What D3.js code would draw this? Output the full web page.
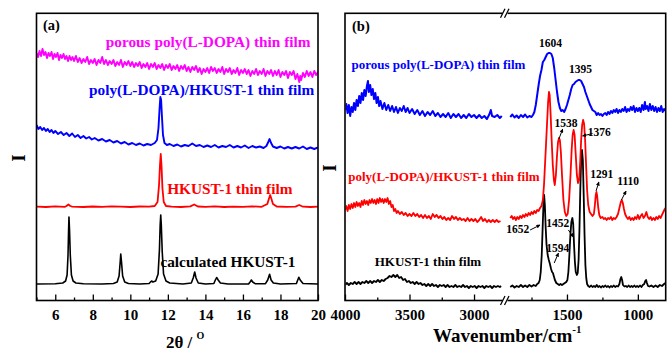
<!DOCTYPE html>
<html><head><meta charset="utf-8">
<script src="https://cdn.jsdelivr.net/npm/d3@7"></script>
<style>
html,body{margin:0;padding:0;background:#fff;}
svg{display:block;}
text{font-family:"Liberation Serif","Times New Roman",serif;font-weight:bold;}
</style></head>
<body>
<svg id="c" width="667" height="351"></svg>
<script>
// ---------------- DATA ----------------
// Panel (a) XRD: [2theta (deg), intensity a.u. incl. offset]
const xrdPorous = [[5.0,247],[5.08,243],[5.16,249],[5.24,244],[5.32,251],[5.4,245],[5.48,248],[5.56,242],[5.64,247],[5.72,244],[5.8,248],[5.88,241],[5.96,246],[6.04,243],[6.12,247],[6.2,240],[6.28,245],[6.36,242],[6.44,246],[6.52,241],[6.6,244],[6.68,239],[6.76,244],[6.84,240],[6.92,243],[7.0,239],[7.1,244],[7.2,238],[7.3,242],[7.4,237],[7.5,241],[7.6,238],[7.7,243],[7.8,236],[7.9,240],[8.0,237],[8.1,241],[8.2,235],[8.3,240],[8.4,237],[8.5,243],[8.6,236],[8.7,240],[8.8,235],[8.9,239],[9.0,236],[9.1,240],[9.2,234],[9.3,238],[9.4,235],[9.5,240],[9.6,233],[9.7,238],[9.8,235],[9.9,239],[10.0,234],[10.1,238],[10.2,233],[10.3,237],[10.4,234],[10.5,238],[10.6,232],[10.7,236],[10.8,233],[10.9,237],[11.0,231],[11.1,236],[11.2,233],[11.3,237],[11.4,231],[11.5,235],[11.6,232],[11.7,236],[11.8,230],[11.9,235],[12.0,232],[12.1,236],[12.2,230],[12.3,234],[12.4,231],[12.5,235],[12.6,229],[12.7,234],[12.8,231],[12.9,235],[13.0,229],[13.1,233],[13.2,228],[13.3,233],[13.4,230],[13.5,234],[13.6,228],[13.7,232],[13.8,226],[13.9,231],[14.0,228],[14.1,232],[14.2,227],[14.3,233],[14.4,229],[14.5,232],[14.6,227],[14.7,231],[14.8,228],[14.9,233],[15.0,226],[15.1,231],[15.2,228],[15.3,232],[15.4,226],[15.5,230],[15.6,227],[15.7,232],[15.8,225],[15.9,230],[16.0,227],[16.1,231],[16.2,226],[16.3,230],[16.4,224],[16.5,229],[16.6,226],[16.7,231],[16.8,225],[16.9,229],[17.0,226],[17.1,231],[17.2,224],[17.3,229],[17.4,226],[17.5,230],[17.6,224],[17.7,229],[17.8,225],[17.9,230],[18.0,223],[18.1,228],[18.2,225],[18.3,229],[18.4,222],[18.5,228],[18.6,225],[18.7,229],[18.8,221],[18.9,226],[19.0,218],[19.05,224],[19.1,220],[19.2,227],[19.3,223],[19.4,229],[19.5,224],[19.6,228],[19.7,223],[19.8,229],[19.9,225],[20.0,228]];
const xrdComposite = [[5.0,175],[5.1,171],[5.2,173],[5.3,170],[5.4,172],[5.5,169],[5.6,171],[5.7,168],[5.8,170],[5.9,167],[6.0,169],[6.15,166],[6.3,168],[6.45,165],[6.6,167],[6.75,164],[6.9,166.5],[7.05,163],[7.2,165],[7.35,162],[7.5,164],[7.65,161.5],[7.8,163],[7.95,160.5],[8.1,162],[8.3,159.5],[8.5,161],[8.7,158.5],[8.9,160],[9.1,157.5],[9.3,159],[9.5,156.5],[9.7,158],[9.9,155.5],[10.1,157],[10.3,155],[10.5,156.5],[10.7,154.5],[10.9,156],[11.1,155],[11.3,157],[11.42,160],[11.5,172],[11.56,192],[11.6,203],[11.64,200],[11.68,185],[11.74,165],[11.82,157],[11.95,155],[12.1,156],[12.3,154],[12.5,155.5],[12.7,153.5],[12.9,155],[13.1,154],[13.3,156.5],[13.5,154],[13.7,155],[13.9,153],[14.1,154.5],[14.3,153],[14.5,155],[14.7,152.5],[14.9,154],[15.1,153],[15.3,155],[15.5,152.5],[15.7,154],[15.9,152.5],[16.1,154.5],[16.3,152],[16.5,154],[16.7,152.5],[16.9,153.5],[17.1,152],[17.25,154],[17.35,158],[17.42,161],[17.5,157],[17.6,153.5],[17.8,152],[18.0,153.5],[18.2,151.5],[18.4,153],[18.6,151.5],[18.8,153],[19.0,151.5],[19.2,153.5],[19.4,151],[19.6,152.5],[19.8,151],[20.0,152.5]];
const xrdFilm = [[5.0,93.5],[5.5,93.0],[6.0,93.6],[6.5,93.2],[6.6,94],[6.7,95.5],[6.8,94],[6.9,93.4],[7.5,93.0],[8.0,93.5],[8.5,93.1],[9.0,93.6],[9.5,93.4],[10.0,93.0],[10.5,93.5],[11.0,93.3],[11.3,94],[11.45,98],[11.53,115],[11.58,135],[11.62,146],[11.66,135],[11.71,112],[11.78,98],[11.9,94],[12.2,93.4],[12.7,93.0],[13.2,93.6],[13.4,95.5],[13.6,93.5],[14.0,93.2],[14.5,93.6],[15.0,93.0],[15.5,93.4],[16.0,93.1],[16.5,93.6],[17.0,93.2],[17.3,96],[17.38,101],[17.45,105],[17.52,101],[17.6,96],[17.8,93.5],[18.3,93.2],[18.8,93.4],[19.0,95],[19.2,93.3],[19.6,93.0],[20.0,93.4]];
const xrdCalc = [[5.0,16],[6.0,16.3],[6.4,17],[6.55,19],[6.63,25],[6.68,45],[6.71,70],[6.73,83],[6.76,70],[6.80,45],[6.86,25],[6.95,19],[7.1,17],[7.5,16.3],[8.5,16],[9.1,16.5],[9.3,18],[9.4,24],[9.46,38],[9.49,46],[9.53,38],[9.59,24],[9.7,18],[9.9,16.5],[10.5,16],[11.0,16.5],[11.1,18.5],[11.13,19],[11.2,18],[11.35,19],[11.48,26],[11.55,50],[11.59,75],[11.62,85],[11.65,75],[11.70,48],[11.77,26],[11.9,19],[12.1,17],[12.8,16],[13.25,17],[13.35,22],[13.43,28],[13.5,22],[13.62,17],[14.0,16],[14.45,16.5],[14.53,20],[14.6,22.5],[14.68,20],[14.8,17],[15.2,16],[16.3,16],[16.4,18.5],[16.45,20],[16.52,18],[16.65,16.3],[17.2,16.3],[17.32,20],[17.42,25.7],[17.5,20],[17.62,17],[18.0,16],[18.85,16.5],[18.92,20],[18.98,22.7],[19.05,20],[19.2,16.5],[20.0,16]];

// Panel (b) FTIR: [wavenumber (cm-1), intensity a.u. incl. offset]; high range and low range
const irPorousHi = [[4000,190],[3990,196],[3980,187],[3970,195],[3960,184],[3950,193],[3940,188],[3930,197],[3920,190],[3910,200],[3900,194],[3890,204],[3880,197],[3870,207],[3860,200],[3850,210],[3840,204],[3830,214],[3822,219],[3815,208],[3805,215],[3795,205],[3785,211],[3775,201],[3765,207],[3755,197],[3745,203],[3735,194],[3725,199],[3710,191],[3695,197],[3680,190],[3665,195],[3650,189],[3635,194],[3620,188],[3605,193],[3590,187],[3575,192],[3560,189],[3545,194],[3530,188],[3515,192],[3500,187],[3480,191],[3460,186],[3440,190],[3420,185],[3400,189],[3380,184],[3360,188],[3340,185],[3320,189],[3300,184],[3280,187],[3260,183],[3240,186],[3220,183],[3200,187],[3180,182],[3160,186],[3140,183],[3120,186],[3100,182],[3080,185],[3060,182],[3040,186],[3020,183],[3000,185],[2980,182],[2960,185],[2940,182],[2920,184],[2900,181],[2880,186],[2870,190],[2860,184],[2840,183],[2820,185],[2800,182],[2785,184]];
const irPorousLo = [[1900,183],[1885,185.5],[1870,182.5],[1855,184.5],[1840,182],[1825,185],[1810,183],[1795,185.5],[1780,182.5],[1765,184],[1750,183],[1740,185],[1730,188],[1720,195],[1710,205],[1700,215],[1690,224],[1680,230],[1670,238],[1660,240],[1650,243],[1640,246],[1630,247],[1620,247],[1610,246],[1600,242],[1590,232],[1580,220],[1570,208],[1560,198],[1550,192],[1540,189],[1530,190],[1520,188],[1510,191],[1500,195],[1490,200],[1480,205],[1470,211],[1460,215],[1450,216],[1440,218],[1430,219],[1420,220],[1410,220],[1400,219],[1390,216],[1380,213],[1370,208],[1360,204],[1350,200],[1340,196],[1330,193],[1320,190],[1310,189],[1300,188],[1290,185],[1280,187],[1270,185],[1260,186],[1250,184],[1240,186],[1230,187],[1220,185],[1210,188],[1200,186],[1190,189],[1180,187],[1170,190],[1160,188],[1150,191],[1140,187],[1130,190],[1120,188],[1110,191],[1100,189],[1090,193],[1080,188],[1070,191],[1060,189],[1050,193],[1040,190],[1030,194],[1020,188],[1010,192],[1000,189],[990,192],[980,188],[970,195],[960,190],[950,198],[945,191],[935,194],[925,189],[915,196],[905,190],[895,194],[885,189],[875,193],[865,188],[855,192],[845,189],[835,194],[825,188],[815,191],[805,189]];
const irCompositeHi = [[4000,90],[3990,94],[3980,89],[3970,95],[3960,91],[3950,96],[3940,92],[3930,97],[3920,93],[3910,98],[3900,94],[3890,97],[3880,93],[3870,99],[3860,95],[3850,100],[3840,96],[3830,99],[3820,95],[3810,100],[3800,97],[3790,101],[3780,97],[3770,100],[3760,96],[3750,101],[3740,97],[3730,102],[3720,98],[3710,101],[3700,97],[3690,101],[3680,98],[3670,102],[3660,96],[3650,99],[3640,93],[3630,95],[3620,89],[3610,91],[3600,87],[3590,89],[3575,86],[3560,88],[3545,85],[3530,87],[3515,84],[3500,86],[3485,84],[3470,87],[3455,84],[3440,86],[3425,83],[3410,85],[3395,82],[3380,85],[3365,82],[3350,84],[3335,81],[3320,86],[3305,83],[3290,85],[3275,82],[3260,84],[3245,81],[3230,83],[3215,80],[3200,82],[3185,80],[3170,84],[3155,81],[3140,83],[3125,80],[3110,82],[3095,80],[3080,81],[3065,79],[3050,82],[3035,79],[3020,81],[3005,79],[2990,81],[2975,78],[2960,80],[2945,83],[2930,79],[2915,81],[2900,78],[2885,80],[2870,78],[2855,80],[2840,78],[2825,80],[2810,78],[2795,79]];
const irCompositeLo = [[1900,82],[1890,84],[1880,81],[1870,83],[1860,80],[1850,83],[1840,81],[1830,84],[1820,82],[1810,85],[1800,83],[1790,86],[1780,84],[1770,87],[1760,85],[1750,88],[1740,86],[1730,89],[1720,87],[1710,90],[1700,89],[1690,92],[1680,94],[1670,100],[1662,115],[1655,135],[1648,155],[1640,178],[1633,198],[1627,208],[1622,205],[1615,185],[1608,160],[1600,135],[1592,120],[1586,115],[1578,125],[1570,145],[1563,158],[1556,162],[1550,160],[1543,148],[1535,125],[1525,100],[1515,88],[1505,84],[1495,86],[1485,100],[1475,125],[1467,150],[1460,165],[1453,170],[1446,165],[1438,145],[1430,125],[1422,117],[1414,120],[1406,140],[1400,160],[1393,175],[1386,180],[1379,176],[1372,160],[1365,135],[1358,110],[1350,95],[1340,88],[1330,86],[1320,84],[1310,86],[1303,95],[1297,105],[1292,108],[1287,104],[1280,93],[1272,85],[1262,82],[1250,83],[1240,81],[1230,82],[1220,80],[1210,82],[1200,81],[1190,83],[1180,80],[1170,82],[1160,81],[1150,83],[1140,86],[1130,92],[1120,98],[1113,100],[1106,97],[1098,91],[1090,86],[1080,83],[1070,81],[1060,83],[1050,80],[1040,82],[1030,80],[1020,83],[1010,81],[1000,85],[990,81],[980,84],[970,86],[960,82],[950,84],[940,88],[930,83],[920,81],[910,83],[900,80],[890,82],[880,80],[870,83],[860,81],[850,84],[840,82],[830,85],[820,88],[810,91],[805,92]];
const irFilmHi = [[4000,15],[3985,17],[3970,15],[3955,17],[3940,16],[3925,18],[3910,16],[3895,18],[3880,16],[3865,18],[3850,17],[3835,19],[3820,17],[3805,19],[3790,17],[3775,19],[3760,18],[3745,20],[3730,18],[3715,20],[3700,19],[3685,21],[3670,22],[3655,24],[3640,23],[3625,25],[3610,23],[3595,25],[3580,22],[3565,23],[3550,20],[3535,21],[3520,18],[3505,19],[3490,17],[3475,18],[3460,16],[3445,18],[3430,16],[3415,17],[3400,15],[3385,16],[3370,14],[3355,16],[3340,14],[3325,16],[3310,14],[3295,15],[3280,13],[3265,15],[3250,14],[3235,15],[3220,13],[3205,15],[3190,13],[3175,14],[3160,13],[3145,15],[3130,13],[3115,14],[3100,13],[3085,15],[3070,13],[3055,14],[3040,12],[3025,14],[3010,13],[2995,14],[2980,12],[2965,14],[2950,13],[2935,14],[2920,12],[2905,14],[2890,13],[2875,14],[2860,12],[2845,14],[2830,13],[2815,14],[2800,13],[2790,14]];
const irFilmLo = [[1900,13],[1885,14.5],[1870,12.5],[1855,14],[1840,13],[1825,15],[1810,13],[1795,14.5],[1780,13],[1765,15],[1750,13.5],[1735,15],[1720,14],[1710,16],[1700,17],[1692,20],[1685,28],[1678,45],[1672,70],[1666,95],[1661,105],[1656,95],[1650,72],[1644,55],[1636,45],[1628,40],[1620,36],[1612,31],[1605,28],[1599,27],[1593,24],[1585,20],[1575,17],[1565,16],[1555,15],[1545,16],[1535,15],[1525,16],[1515,17],[1505,18],[1497,20],[1490,28],[1483,45],[1476,65],[1469,78],[1462,82],[1456,76],[1450,55],[1444,38],[1438,28],[1430,25],[1424,27],[1418,40],[1412,70],[1406,110],[1400,140],[1394,150],[1388,140],[1382,105],[1376,65],[1370,35],[1364,22],[1358,16],[1350,14],[1340,13],[1330,14.5],[1320,13],[1310,14],[1300,13],[1290,15],[1280,13],[1270,14],[1260,12.5],[1250,14],[1240,13],[1230,14.5],[1220,13],[1210,14],[1200,12.5],[1190,14],[1180,13],[1170,14.5],[1160,13],[1150,14],[1140,13.5],[1130,16],[1123,21],[1117,23],[1111,20],[1105,15],[1095,13.5],[1085,14],[1075,13],[1065,14.5],[1055,13],[1045,14],[1035,13],[1025,14.5],[1015,13],[1005,14],[995,13],[985,14.5],[975,13],[965,15],[955,16],[948,19],[942,20],[936,17],[928,14],[918,13.5],[905,14.5],[890,13],[875,14.5],[860,13],[845,15],[830,14],[815,16],[805,17]];

// tick values
const ticksAMajor = [6,8,10,12,14,16,18,20];
const ticksAMinor = [5,7,9,11,13,15,17,19];
const ticksB1Major = [4000,3500,3000];
const ticksB1Minor = [3750,3250];
const ticksB2Major = [1500,1000];
const ticksB2Minor = [1750,1250];

// series labels
const labelsA = [
  {text:"porous poly(L-DOPA) thin film", color:"#ff00ff", x:19.6, y:253, anchor:"end"},
  {text:"poly(L-DOPA)/HKUST-1 thin film", color:"#0000ff", x:19.8, y:205, anchor:"end"},
  {text:"HKUST-1 thin film", color:"#ff0000", x:15.3, y:106, anchor:"middle"},
  {text:"calculated HKUST-1", color:"#000000", x:15.2, y:33.5, anchor:"middle"}
];
const labelsB = [
  {text:"porous poly(L-DOPA) thin film", color:"#0000ff", seg:1, x:3950, y:231, anchor:"start"},
  {text:"poly(L-DOPA)/HKUST-1 thin film", color:"#ff0000", seg:1, x:3975, y:119, anchor:"start"},
  {text:"HKUST-1 thin film", color:"#000000", seg:1, x:3770, y:34.5, anchor:"start"}
];
// peak annotations (panel b, low range): label position and arrow [from, to] in (wavenumber, intensity)
const peakLabels = [
  {text:"1604", x:1617, y:253.5, arrow:null},
  {text:"1395", x:1405, y:227.5, arrow:null},
  {text:"1538", x:1507, y:173.5, arrow:[[1557,161],[1530,171]]},
  {text:"1376", x:1272, y:164, arrow:[[1320,166.5],[1390,164]]},
  {text:"1291", x:1255, y:121.7, arrow:[[1295,109],[1275,118]]},
  {text:"1110", x:1068, y:115, arrow:[[1116,100],[1083,109]]},
  {text:"1652", x:1848, y:66.7, arrow:[[1760,70],[1690,75]]},
  {text:"1452", x:1565, y:73.3, arrow:[[1490,70],[1455,63]]},
  {text:"1594", x:1565, y:48.3, arrow:[[1590,37],[1560,47]]}
];

// ---------------- DRAW ----------------
const svg = d3.select("#c");
const FONT = '"Liberation Serif","Times New Roman",serif';

const yS = d3.scaleLinear().domain([0,287]).range([300,13]);
const xA = d3.scaleLinear().domain([5,20]).range([36.5,318]);
const xB1 = d3.scaleLinear().domain([4000,2760]).range([345,505]);
const xB2 = d3.scaleLinear().domain([1930,805]).range([506,665.5]);

const defs = svg.append("defs");
defs.append("clipPath").attr("id","clipA").append("rect").attr("x",37).attr("y",13).attr("width",281).attr("height",287);
defs.append("clipPath").attr("id","clipB").append("rect").attr("x",345.5).attr("y",13).attr("width",320).attr("height",287);
defs.append("marker").attr("id","arr").attr("viewBox","0 0 10 10").attr("refX",9).attr("refY",5)
  .attr("markerWidth",4).attr("markerHeight",4).attr("orient","auto")
  .append("path").attr("d","M0,0L10,5L0,10z").attr("fill","#000");

function drawLine(g, data, xs, color, w){
  g.append("path").datum(data)
    .attr("d", d3.line().x(d=>xs(d[0])).y(d=>yS(d[1])))
    .attr("fill","none").attr("stroke",color).attr("stroke-width",w).attr("stroke-linejoin","round");
}

// Panel (a)
const gA = svg.append("g").attr("clip-path","url(#clipA)");
drawLine(gA, xrdCalc, xA, "#000", 1.6);
drawLine(gA, xrdFilm, xA, "#ff0000", 1.8);
drawLine(gA, xrdComposite, xA, "#0000ff", 1.9);
drawLine(gA, xrdPorous, xA, "#ff00ff", 1.9);

// Panel (b)
const gB = svg.append("g").attr("clip-path","url(#clipB)");
drawLine(gB, irFilmHi, xB1, "#000", 1.8);
drawLine(gB, irFilmLo, xB2, "#000", 1.8);
drawLine(gB, irCompositeHi, xB1, "#ff0000", 1.8);
drawLine(gB, irCompositeLo, xB2, "#ff0000", 1.8);
drawLine(gB, irPorousHi, xB1, "#0000ff", 2);
drawLine(gB, irPorousLo, xB2, "#0000ff", 2);

// axes (ticks inward)
function axis(xs, major, minor, labels){
  const gM = svg.append("g").attr("transform","translate(0,300.5)")
    .call(d3.axisBottom(xs).tickValues(major).tickSize(-6).tickPadding(10).tickFormat(labels?d3.format("d"):""));
  const gm = svg.append("g").attr("transform","translate(0,300.5)")
    .call(d3.axisBottom(xs).tickValues(minor).tickSize(-3).tickFormat(""));
  [gM,gm].forEach(g=>{
    g.select(".domain").remove();
    g.selectAll("line").attr("stroke","#000").attr("stroke-width",1.3);
  });
  gM.selectAll("text").attr("font-family",FONT).attr("font-weight","bold").attr("font-size",15).attr("fill","#000").attr("dy","0.62em");
}
axis(xA, ticksAMajor, ticksAMinor, true);
axis(xB1, ticksB1Major, ticksB1Minor, true);
axis(xB2, ticksB2Major, ticksB2Minor, true);

// frames
svg.append("rect").attr("x",36.5).attr("y",13.3).attr("width",281.5).attr("height",287.2)
  .attr("fill","none").attr("stroke","#000").attr("stroke-width",1.6);
svg.append("rect").attr("x",345).attr("y",13.3).attr("width",320.7).attr("height",287.2)
  .attr("fill","none").attr("stroke","#000").attr("stroke-width",1.6);
// axis break marks
[13.3, 300.5].forEach(yy=>{
  svg.append("rect").attr("x",502.5).attr("y",yy-2).attr("width",5).attr("height",4).attr("fill","#fff");
  [500.5,504.5].forEach(x0=>{
    svg.append("line").attr("x1",x0).attr("y1",yy+4.5).attr("x2",x0+4.5).attr("y2",yy-4.5)
      .attr("stroke","#000").attr("stroke-width",1.3);
  });
});

// series labels
labelsA.forEach(l=>{
  svg.append("text").attr("x",xA(l.x)).attr("y",yS(l.y)).attr("text-anchor",l.anchor)
    .attr("font-size",15.3).attr("fill",l.color).text(l.text);
});
labelsB.forEach(l=>{
  svg.append("text").attr("x",xB1(l.x)).attr("y",yS(l.y)).attr("text-anchor",l.anchor)
    .attr("font-size",13).attr("fill",l.color).text(l.text);
});
peakLabels.forEach(p=>{
  svg.append("text").attr("x",xB2(p.x)).attr("y",yS(p.y)).attr("text-anchor","middle")
    .attr("font-size",11.5).attr("fill","#000").text(p.text);
  if(p.arrow){
    svg.append("line").attr("x1",xB2(p.arrow[0][0])).attr("y1",yS(p.arrow[0][1]))
      .attr("x2",xB2(p.arrow[1][0])).attr("y2",yS(p.arrow[1][1]))
      .attr("stroke","#000").attr("stroke-width",1).attr("marker-end","url(#arr)");
  }
});

// panel tags
svg.append("text").attr("x",43).attr("y",29.5).attr("font-size",14.5).text("(a)");
svg.append("text").attr("x",352).attr("y",31).attr("font-size",14.5).text("(b)");

// y labels
svg.append("text").attr("transform","translate(19,158) rotate(-90)").attr("text-anchor","middle")
  .attr("dominant-baseline","central").attr("font-size",18).text("I");
svg.append("text").attr("transform","translate(330,168) rotate(-90)").attr("text-anchor","middle")
  .attr("dominant-baseline","central").attr("font-size",18).text("I");

// x titles
const tA = svg.append("text").attr("x",166).attr("y",347.5).attr("font-size",17);
tA.append("tspan").text("2θ / ");
tA.append("tspan").attr("font-size",10).attr("dy",-9).text("O");
const tB = svg.append("text").attr("x",433).attr("y",341.5).attr("font-size",19);
tB.append("tspan").text("Wavenumber/cm");
tB.append("tspan").attr("font-size",11).attr("dy",-9).text("-1");
</script>
</body></html>
